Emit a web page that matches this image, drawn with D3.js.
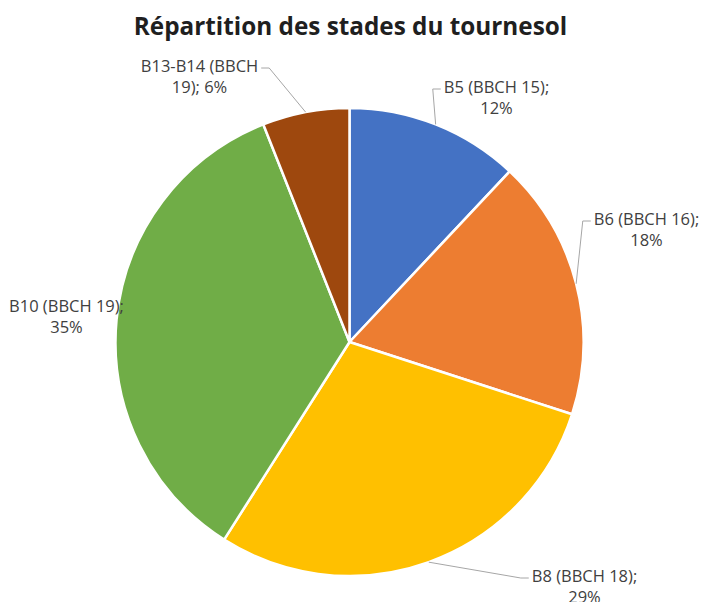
<!DOCTYPE html>
<html>
<head>
<meta charset="utf-8">
<script src="https://cdn.jsdelivr.net/npm/d3@7"></script>
<style>
    html, body { margin: 0; padding: 0; background: #fff; }
    svg { display: block; font-family: "Open Sans", sans-serif; }
</style>
</head>
<body>
<div id="chart"></div>
<script>
'use strict';

// chart data
const stages = ["B5 (BBCH 15)", "B6 (BBCH 16)", "B8 (BBCH 18)", "B10 (BBCH 19)", "B13-B14 (BBCH 19)"];
const shares = [12, 18, 29, 35, 6];
const colors = ["#4472C4", "#ED7D31", "#FFC000", "#70AD47", "#9E480E"];

// label text lines, as the chart wraps them
const labelLines = [
    ["B5 (BBCH 15);", "12%"],
    ["B6 (BBCH 16);", "18%"],
    ["B8 (BBCH 18);", "29%"],
    ["B10 (BBCH 19);", "35%"],
    ["B13-B14 (BBCH", "19); 6%"]
];

// where each label block sits, relative to the pie centre (first baseline)
const labelLayout = [
    { dx: 147, dy: -249, leader: true },
    { dx: 297, dy: -117, leader: true },
    { dx: 235, dy: 240, leader: true },
    { dx: -283, dy: -30, leader: false },
    { dx: -150, dy: -270, leader: true }
];

const width = 701, height = 602;
const cx = 349.5, cy = 342, radius = 234;
const lineHeight = 21;

const svg = d3.select("#chart").append("svg")
    .attr("width", width)
    .attr("height", height);

svg.append("text")
    .attr("x", 350.5)
    .attr("y", 35)
    .attr("text-anchor", "middle")
    .attr("font-size", 24.3)
    .attr("font-weight", "bold")
    .attr("fill", "#1f1f1f")
    .text("Répartition des stades du tournesol");

const pie = d3.pie().sort(null).value(d => d);
const arcs = pie(shares);

const arc = d3.arc().innerRadius(0).outerRadius(radius);
const edgeArc = d3.arc().innerRadius(radius).outerRadius(radius);

const g = svg.append("g").attr("transform", `translate(${cx},${cy})`);

g.selectAll("path.slice")
    .data(arcs)
    .join("path")
    .attr("class", "slice")
    .attr("d", arc)
    .attr("fill", (d, i) => colors[i])
    .attr("stroke", "#fff")
    .attr("stroke-width", 2.5)
    .attr("stroke-linejoin", "round");

// labels
const labels = g.selectAll("g.label")
    .data(arcs)
    .join("g")
    .attr("class", "label");

labels.append("text")
    .attr("text-anchor", "middle")
    .attr("font-size", 16.5)
    .attr("fill", "#404040")
    .selectAll("tspan")
    .data((d, i) => labelLines[i].map(t => ({ t, i })))
    .join("tspan")
    .attr("x", d => labelLayout[d.i].dx)
    .attr("y", (d, j) => labelLayout[d.i].dy + j * lineHeight)
    .text(d => d.t);

// leader lines from the slice edge to the label
labels.each(function (d, i) {
    const lay = labelLayout[i];
    if (!lay.leader) return;
    const firstW = d3.select(this).select("tspan").node().getComputedTextLength();
    const [ex, ey] = edgeArc.centroid(d);
    const onRight = lay.dx > ex;
    const ly = lay.dy - 4;
    const tx = onRight ? lay.dx - firstW / 2 - 3 : lay.dx + firstW / 2 + 3;
    const elbow = onRight ? tx - 8 : tx + 8;
    d3.select(this).insert("path", "text")
        .attr("d", d3.line()([[ex, ey], [elbow, ly], [tx, ly]]))
        .attr("fill", "none")
        .attr("stroke", "#a6a6a6")
        .attr("stroke-width", 1);
});
</script>
</body>
</html>
